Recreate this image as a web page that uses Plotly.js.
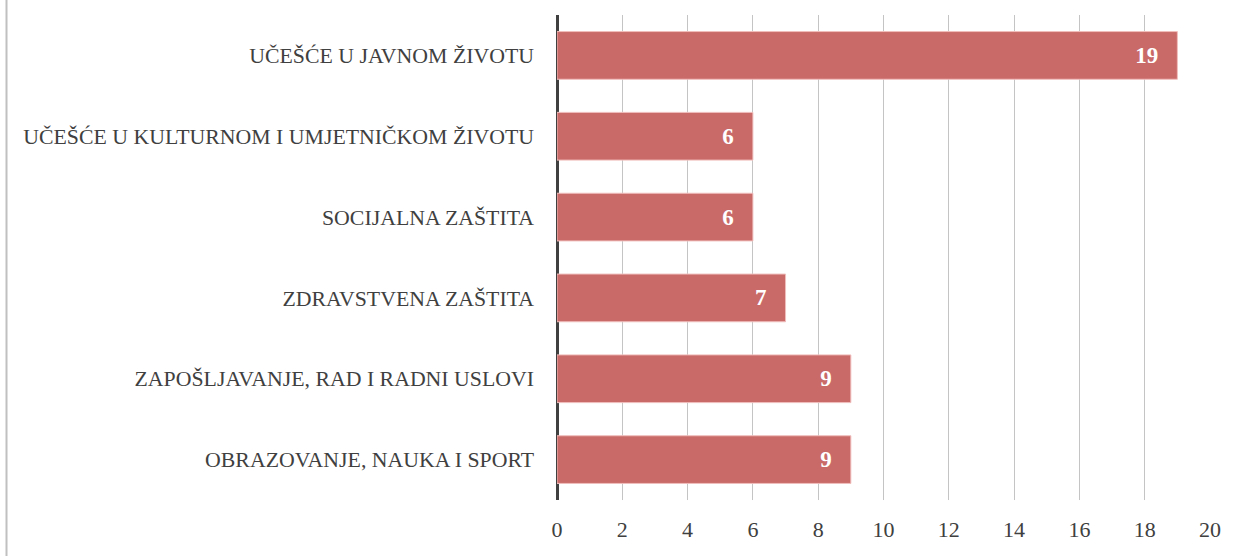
<!DOCTYPE html>
<html>
<head>
<meta charset="utf-8">
<script src="https://cdn.plot.ly/plotly-3.0.1.min.js"></script>
<style>
html,body{margin:0;padding:0;background:#fff;}
#chart{width:1241px;height:556px;}
</style>
</head>
<body>
<div id="chart"></div>
<script>
const categories = [
  "OBRAZOVANJE, NAUKA I SPORT",
  "ZAPOŠLJAVANJE, RAD I RADNI USLOVI",
  "ZDRAVSTVENA ZAŠTITA",
  "SOCIJALNA ZAŠTITA",
  "UČEŠĆE U KULTURNOM I UMJETNIČKOM ŽIVOTU",
  "UČEŠĆE U JAVNOM ŽIVOTU"
];
const values = [9, 9, 7, 6, 6, 19];
const xTicks = [0, 2, 4, 6, 8, 10, 12, 14, 16, 18, 20];

const W = 1241, H = 556;
const margin = {l: 557, r: 31, t: 15, b: 56};
const plotW = W - margin.l - margin.r;
const fontFam = "Liberation Serif, serif";

const trace = {
  type: "bar",
  orientation: "h",
  y: categories,
  x: values,
  text: values.map(v => String(v) + "\u00a0\u00a0\u2009"),
  textposition: "inside",
  insidetextanchor: "end",
  constraintext: "none",
  textfont: {family: fontFam, size: 23, color: "#ffffff", weight: "bold"},
  marker: {color: "rgb(201,106,104)", line: {color: "rgba(240,190,188,1)", width: 1}},
  cliponaxis: false,
  hoverinfo: "none"
};

const layout = {
  width: W, height: H,
  margin: margin,
  paper_bgcolor: "#ffffff",
  plot_bgcolor: "#ffffff",
  showlegend: false,
  bargap: 0.41,
  font: {family: fontFam, color: "#404040", size: 22},
  xaxis: {
    range: [0, 20],
    tickvals: xTicks,
    ticktext: xTicks.map(String),
    showgrid: true,
    gridcolor: "#c4c4c4",
    gridwidth: 1,
    zeroline: true,
    zerolinecolor: "#404040",
    zerolinewidth: 3,
    showline: false,
    ticks: "",
    ticklabelstandoff: 14,
    tickfont: {family: fontFam, size: 22, color: "#404040"},
    fixedrange: true
  },
  yaxis: {
    type: "category",
    showgrid: false,
    zeroline: false,
    showline: false,
    ticks: "",
    ticklabelstandoff: 22,
    tickfont: {family: fontFam, size: 21.8, color: "#404040"},
    fixedrange: true
  },
  shapes: [{
    type: "line",
    xref: "paper", yref: "paper",
    x0: (6.5 - margin.l) / plotW, x1: (6.5 - margin.l) / plotW,
    y0: -margin.b / (H - margin.t - margin.b), y1: 1 + margin.t / (H - margin.t - margin.b),
    line: {color: "#c0c0c0", width: 2}
  }]
};

Plotly.newPlot("chart", [trace], layout, {displayModeBar: false, staticPlot: true});
</script>
</body>
</html>
